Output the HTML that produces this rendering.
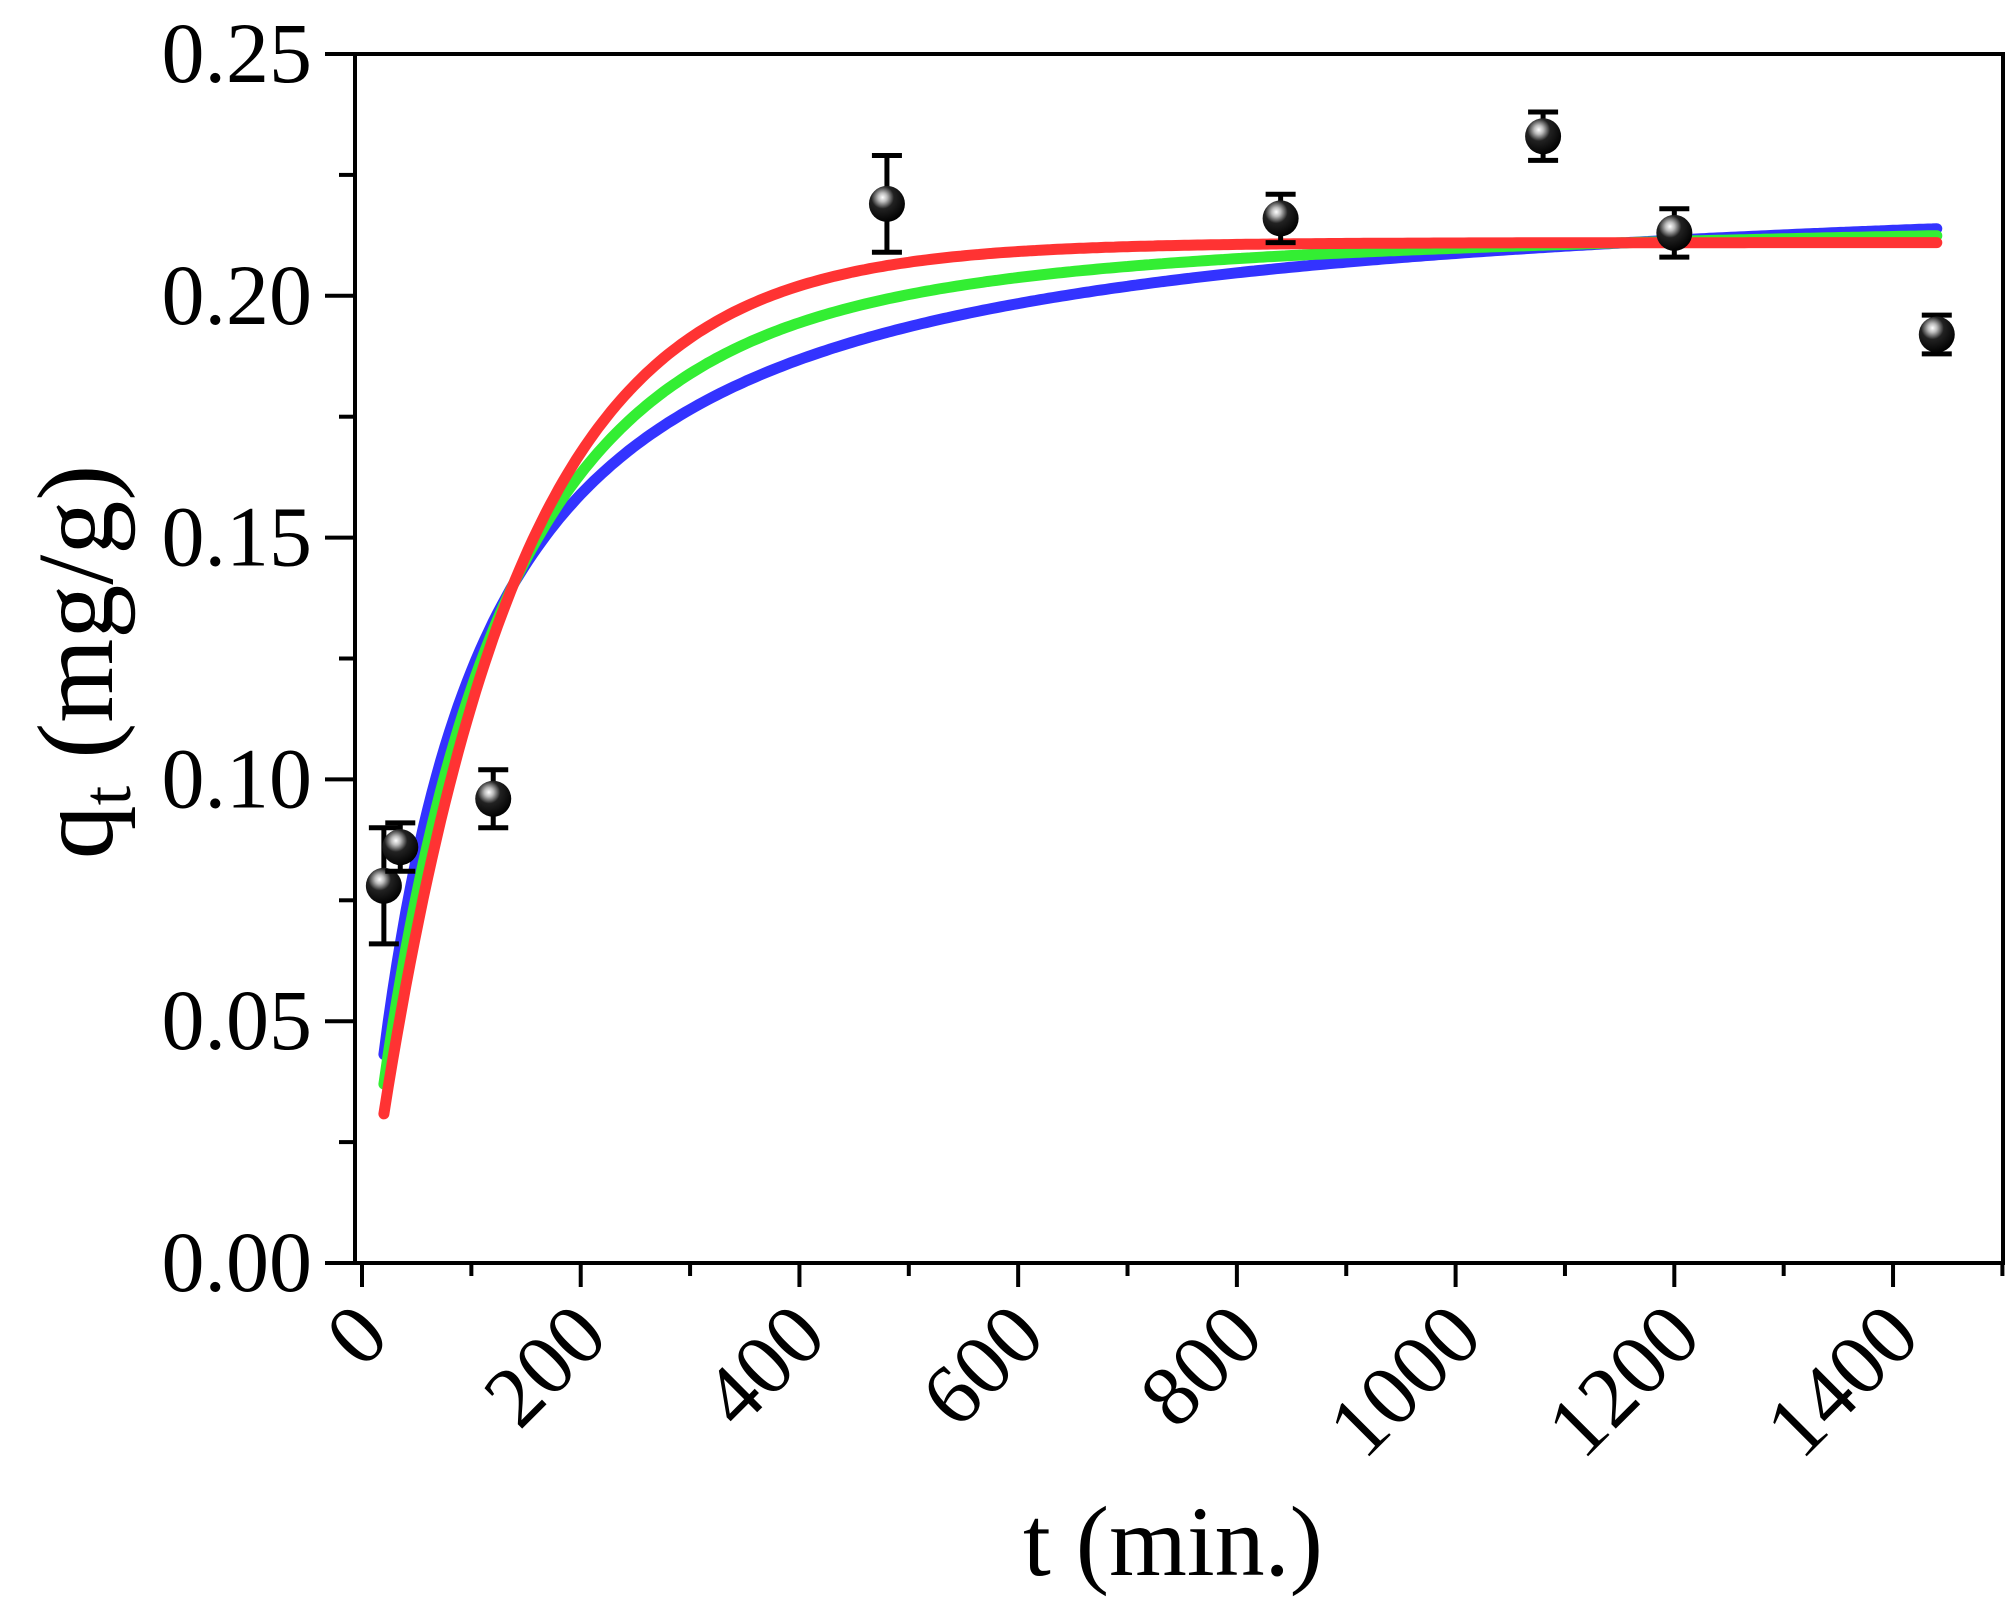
<!DOCTYPE html>
<html><head><meta charset="utf-8"><style>html,body{margin:0;padding:0;background:#fff}svg{display:block}</style></head>
<body>
<svg id="s" width="2016" height="1623" viewBox="0 0 2016 1623" xmlns="http://www.w3.org/2000/svg" font-family="'Liberation Serif', serif">
<defs>
<radialGradient id="ball" cx="0.38" cy="0.32" r="0.7">
<stop offset="0" stop-color="#ffffff"/><stop offset="0.18" stop-color="#bbbbbb"/><stop offset="0.45" stop-color="#222"/><stop offset="1" stop-color="#000"/>
</radialGradient>
</defs>
<g id="g"></g>
</svg>
<script>
var X0=362,XS=1.0936,Y0=1263,YS=4836;
function px(t){return X0+t*XS} function py(q){return Y0-q*YS}
var h='';
h+='<rect x="355" y="54" width="1648" height="1209" fill="none" stroke="#000" stroke-width="4"/>';
for(var i=0;i<=10;i++){var q=i*0.025,y=py(q),len=(i%2==0)?30:16;
h+='<line x1="'+(355-len)+'" y1="'+y+'" x2="355" y2="'+y+'" stroke="#000" stroke-width="4"/>';
if(i%2==0)h+='<text x="312" y="'+(y+28)+'" font-size="86" text-anchor="end">'+q.toFixed(2)+'</text>';}
for(var t=0;t<=1500;t+=100){var x=px(t),len=(t%200==0)?24:13;
h+='<line x1="'+x+'" y1="1263" x2="'+x+'" y2="'+(1263+len)+'" stroke="#000" stroke-width="4"/>';
if(t%200==0&&t<=1400)h+='<text transform="translate('+(x+30)+',1340) rotate(-45)" font-size="86" text-anchor="end">'+t+'</text>';}
h+='<text x="1173" y="1575" font-size="100" text-anchor="middle">t (min.)</text>';
h+='<text transform="translate(112,662) rotate(-90)" font-size="108" text-anchor="middle">q<tspan font-size="70" dy="18">t</tspan><tspan dy="-18"> (mg/g)</tspan></text>';
function red(t){return 0.211*(1-Math.exp(-0.0079*t))}
function blue(t){return 0.2265*t/(85+t)}
function green(t){return 0.5*(red(t)+blue(t))}
function path(f,c){var d='';for(var t=20;t<=1440;t+=4){d+=(t==20?'M':'L')+px(t).toFixed(1)+','+py(f(t)).toFixed(1)}
return '<path d="'+d+'" fill="none" stroke="'+c+'" stroke-width="11" stroke-linecap="round"/>'}
h+=path(blue,'#3333ff')+path(green,'#33ee33')+path(red,'#ff3333');
var P=[[20,0.078,0.012],[35,0.086,0.005],[120,0.096,0.006],[480,0.219,0.010],[840,0.216,0.005],[1080,0.233,0.005],[1200,0.213,0.005],[1440,0.192,0.004]];
P.forEach(function(p){var x=px(p[0]),y1=py(p[1]+p[2]),y2=py(p[1]-p[2]);
h+='<line x1="'+x+'" y1="'+y1+'" x2="'+x+'" y2="'+y2+'" stroke="#000" stroke-width="5"/>';
h+='<line x1="'+(x-15)+'" y1="'+y1+'" x2="'+(x+15)+'" y2="'+y1+'" stroke="#000" stroke-width="5"/>';
h+='<line x1="'+(x-15)+'" y1="'+y2+'" x2="'+(x+15)+'" y2="'+y2+'" stroke="#000" stroke-width="5"/>';
h+='<circle cx="'+x+'" cy="'+py(p[1])+'" r="18" fill="url(#ball)"/>';});
document.getElementById('g').innerHTML=h;
</script>
</body></html>
